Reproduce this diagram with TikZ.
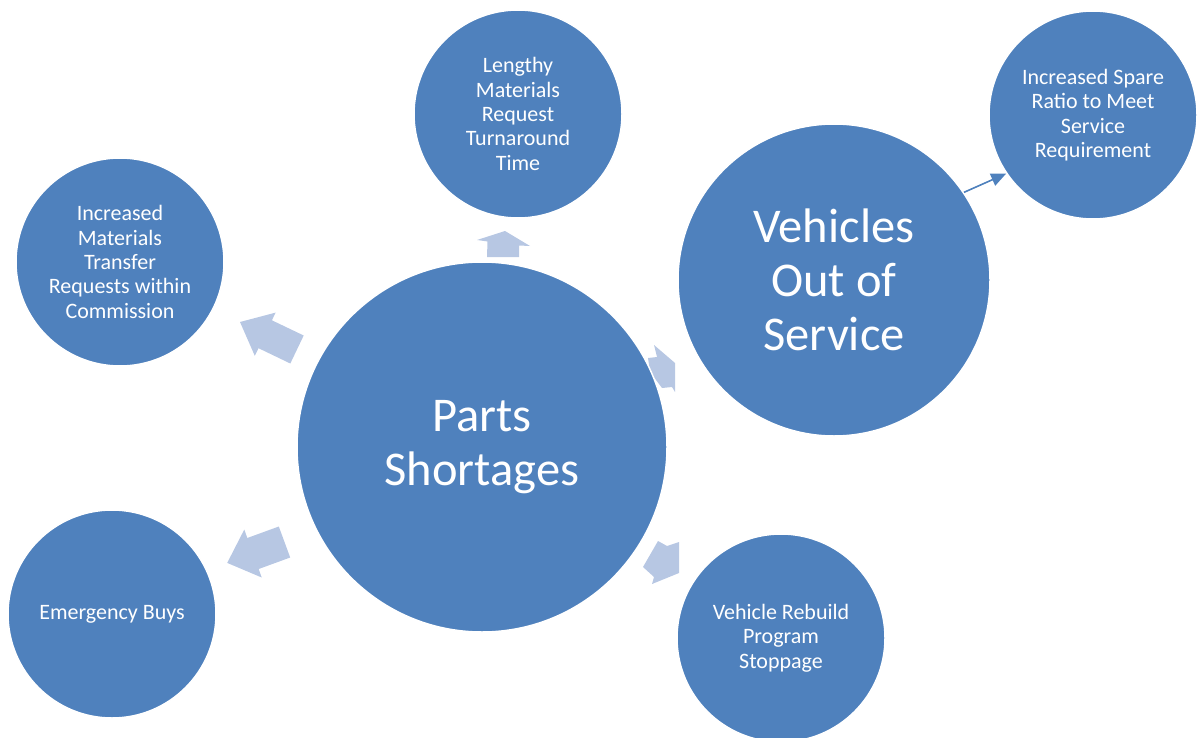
\documentclass[tikz,border=0pt]{standalone}
\usepackage{fontspec}
\setmainfont{Carlito}
\usetikzlibrary{arrows.meta}
\definecolor{cblue}{RGB}{79,129,189}
\definecolor{ablue}{RGB}{183,199,227}
\tikzset{
  bubble/.style={circle, fill=cblue, draw=white, line width=1.5pt, inner sep=0pt, text=white, align=center},
  smalltxt/.style={font=\fontsize{22}{24.3}\selectfont},
  bigtxt/.style={font=\fontsize{48.5}{54}\selectfont},
  blockarrow/.style={fill=ablue, draw=none},
  link/.style={draw=cblue, line width=1.6pt, -{Triangle[length=15pt,width=13pt]}}
}
\begin{document}
\begin{tikzpicture}[x=1pt,y=-1pt]
\useasboundingbox (0,0) rectangle (1201,738);
\clip (0,0) rectangle (1201,738);
% block arrows
\path[blockarrow] (303.7,335.5) -- (271.9,320.3) -- (275.6,312.6) -- (240,322) -- (254.8,355.8) -- (258.5,348.2) -- (290.3,363.5) -- cycle;
\path[blockarrow] (487,257) -- (487.5,241.5) -- (477,240) -- (505,231) -- (530,246) -- (519,245.5) -- (519,257) -- cycle;
\path[blockarrow] (654,345) -- (675,363) -- (675,392) -- (672,387) -- (662,388) -- (650,372) -- (648,358) -- (657,357) -- cycle;
\path[blockarrow] (290.2,557.5) -- (258.7,569) -- (261.7,577.5) -- (227.2,562.9) -- (244.3,529.5) -- (247.3,538) -- (278.8,526.5) -- cycle;
\path[blockarrow] (658,541) -- (667,546) -- (679,542) -- (679,573) -- (652,584) -- (654,577) -- (643,567) -- cycle;
% circles
\node[bubble, bigtxt, minimum size=370pt] (parts) at (482,447) {Parts\\Shortages};
\node[bubble, bigtxt, minimum size=312pt] (veh) at (834,280) {Vehicles\\Out of\\Service};
\node[bubble, smalltxt, minimum size=208pt] (len) at (518,114) {Lengthy\\Materials\\Request\\Turnaround\\Time};
\node[bubble, smalltxt, minimum size=208pt] (spare) at (1093,115) {Increased Spare\\Ratio to Meet\\Service\\Requirement};
\node[bubble, smalltxt, minimum size=208pt] (mat) at (120,262) {Increased\\Materials\\Transfer\\Requests within\\Commission};
\node[bubble, smalltxt, minimum size=208pt] (emg) at (112,614) {Emergency Buys};
\node[bubble, smalltxt, minimum size=208pt] (reb) at (781,638) {Vehicle Rebuild\\Program\\Stoppage};
% connector
\draw[link] (veh.34) -- (spare.214);
\end{tikzpicture}
\end{document}
